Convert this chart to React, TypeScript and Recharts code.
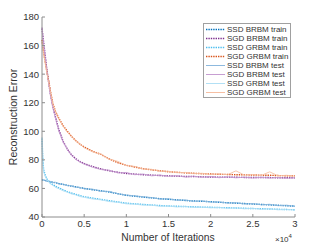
import React from 'react';
import { LineChart, Line, XAxis, YAxis, Customized } from 'recharts';

const iterations = [0, 0.01, 0.02, 0.04, 0.06, 0.08, 0.1, 0.13, 0.16, 0.2, 0.25, 0.3, 0.35, 0.4, 0.45, 0.5, 0.6, 0.7, 0.8, 0.9, 1.0, 1.1, 1.2, 1.3, 1.4, 1.5, 1.6, 1.7, 1.8, 1.9, 2.0, 2.1, 2.2, 2.3, 2.4, 2.5, 2.6, 2.7, 2.8, 2.9, 3.0];

const ssdBrbmTrain = [66.0, 65.8, 65.9, 65.5, 65.2, 65.0, 64.7, 64.3, 64.0, 63.4, 62.8, 62.2, 61.6, 61.1, 60.5, 60.0, 59.1, 58.3, 57.5, 56.3, 55.2, 54.6, 53.9, 53.4, 52.8, 52.4, 52.0, 51.6, 51.2, 51.0, 50.7, 50.3, 50.0, 49.7, 49.4, 49.1, 48.8, 48.5, 48.2, 47.9, 47.6];
const sgdBrbmTrain = [172, 167, 162, 152, 142, 134, 126, 117, 110, 101, 93, 87.5, 83.5, 80.8, 78.8, 77.4, 75.3, 73.6, 72.3, 71.3, 70.5, 70.0, 69.6, 69.3, 69.0, 68.8, 68.6, 68.4, 68.3, 68.1, 68.0, 67.9, 67.9, 67.8, 67.7, 67.7, 67.6, 67.6, 67.5, 67.5, 67.4];
const ssdGrbmTrain = [95, 80, 73, 69, 66.5, 65, 63.8, 62.6, 61.5, 60.3, 59, 57.8, 56.8, 55.9, 55, 54.2, 53.2, 52.3, 51.4, 50.5, 49.7, 49.2, 48.8, 48.4, 48.0, 47.7, 47.5, 47.3, 47.1, 46.9, 46.8, 46.6, 46.5, 46.3, 46.1, 45.9, 45.8, 45.6, 45.4, 45.2, 45.1];
const sgdGrbmTrain = [164, 159, 155, 148, 141, 135, 128, 119, 114, 109, 104, 100, 96.5, 93.5, 91, 89, 86, 83.8, 80.6, 78, 76.2, 75, 73.8, 73, 72.3, 71.7, 71.3, 70.9, 70.6, 70.3, 70.1, 69.9, 69.8, 69.6, 69.5, 69.4, 69.3, 69.2, 69.0, 68.9, 68.8];

const ssdBrbmTest = [66.2, 65.6, 66.1, 65.2, 65.4, 64.7, 64.9, 64.0, 64.3, 63.1, 63.0, 61.9, 61.9, 60.8, 60.8, 59.7, 59.5, 58.0, 57.9, 56.3, 55.4, 54.8, 54.2, 53.6, 52.5, 52.8, 51.7, 51.9, 51.0, 51.3, 50.4, 50.6, 49.7, 50.0, 49.1, 49.4, 48.5, 48.9, 47.9, 48.3, 47.4];
const sgdBrbmTest = [173, 166, 161, 151, 141, 133, 125, 116, 109, 100, 92.5, 87, 83.2, 80.2, 78.6, 77.0, 74.8, 73.2, 72.8, 70.8, 71.2, 69.6, 70.1, 68.8, 69.4, 68.4, 69.0, 67.9, 68.6, 67.8, 68.3, 67.5, 68.1, 67.4, 67.9, 67.3, 67.8, 67.2, 67.7, 67.1, 67.5];
const ssdGrbmTest = [96, 78, 71.5, 68, 66, 64.3, 63.2, 62.1, 60.8, 59.8, 58.3, 57.4, 56.1, 55.5, 54.3, 53.8, 52.6, 52.0, 50.8, 50.3, 49.2, 49.0, 48.3, 48.3, 47.5, 47.7, 47.0, 47.4, 46.7, 46.9, 46.4, 46.7, 46.1, 46.4, 45.7, 46.1, 45.4, 45.8, 45.0, 45.4, 44.8];
const sgdGrbmTest = [163, 158, 154, 147, 140, 134, 127.5, 118.5, 113.5, 108.5, 103.6, 99.4, 96.8, 93.0, 91.3, 88.5, 85.6, 83.9, 80.6, 78.9, 76.0, 75.4, 73.5, 73.4, 72.0, 72.0, 71.0, 71.2, 70.3, 70.6, 69.8, 70.2, 69.6, 72.3, 69.3, 69.7, 69.1, 71.6, 68.8, 69.2, 68.6];

const xTicks = [0, 0.5, 1, 1.5, 2, 2.5, 3];
const yTicks = [40, 60, 80, 100, 120, 140, 160, 180];

const seriesNames = ['SSD BRBM train', 'SGD BRBM train', 'SSD GRBM train', 'SGD GRBM train', 'SSD BRBM test', 'SGD BRBM test', 'SSD GRBM test', 'SGD GRBM test'];
const seriesValues = [ssdBrbmTrain, sgdBrbmTrain, ssdGrbmTrain, sgdGrbmTrain, ssdBrbmTest, sgdBrbmTest, ssdGrbmTest, sgdGrbmTest];
const seriesColors = ['#0072BD', '#7E2F8E', '#4DBEEE', '#D95319', '#8DB9DE', '#C79ED2', '#B2E0F5', '#F6BFA3'];
const seriesDotted = [true, true, true, true, false, false, false, false];

const data = iterations.map((x, i) => {
  const row: Record<string, number> = { x };
  seriesNames.forEach((n, k) => { row[n] = seriesValues[k][i]; });
  return row;
});

const FONT = '"Liberation Sans", Arial, Helvetica, sans-serif';
const AXIS = '#8c8c8c';
const TXT = '#333333';

const LegendBox = () => (
  <div style={{ position: 'absolute', left: 203, top: 23, border: '1px solid #a0a0a0', background: '#fff', width: 88, height: 75, boxSizing: 'border-box', paddingTop: 1, fontFamily: FONT }}>
    {seriesNames.map((n, k) => (
      <div key={n} style={{ display: 'flex', alignItems: 'center', height: 9, lineHeight: '9px' }}>
        <svg width={21} height={9} style={{ marginLeft: 1, flex: 'none' }}>
          <line x1={1} x2={20} y1={4.5} y2={4.5} stroke={seriesColors[k]} strokeWidth={seriesDotted[k] ? 1.4 : 1} strokeDasharray={seriesDotted[k] ? '1.4 1' : undefined} />
        </svg>
        <span style={{ fontSize: 8, color: TXT, marginLeft: 1, whiteSpace: 'nowrap' }}>{n}</span>
      </div>
    ))}
  </div>
);

const Extras = () => (
  <g fontFamily={FONT} fill={TXT}>
    <text x={168} y={241} textAnchor="middle" fontSize={10.3}>Number of Iterations</text>
    <text x={0} y={0} transform="translate(16.5,117) rotate(-90)" textAnchor="middle" fontSize={10.5}>Reconstruction Error</text>
    <text x={275} y={242} fontSize={8}>×10<tspan dy={-4} fontSize={6}>4</tspan></text>
  </g>
);

export default function App() {
  return (
    <div style={{ position: 'absolute', left: 0, top: 0, width: 327, height: 245, background: '#fff' }}>
      <LineChart width={327} height={245} data={data} margin={{ top: 17, right: 32, bottom: 0, left: 0 }}>
        <XAxis xAxisId="b" dataKey="x" type="number" domain={[0, 3]} ticks={xTicks} height={28} tickSize={-3} tickMargin={6}
          stroke={AXIS} tick={{ fill: TXT, fontSize: 9.5, fontFamily: FONT }} interval={0} />
        <XAxis xAxisId="t" dataKey="x" type="number" domain={[0, 3]} ticks={xTicks} orientation="top" height={0} tickSize={-3}
          stroke={AXIS} tick={false} />
        <YAxis yAxisId="l" type="number" domain={[40, 180]} ticks={yTicks} width={42} tickSize={-3} tickMargin={6}
          stroke={AXIS} tick={{ fill: TXT, fontSize: 9.5, fontFamily: FONT }} interval={0} />
        <YAxis yAxisId="r" type="number" domain={[40, 180]} ticks={yTicks} orientation="right" width={0} tickSize={-3}
          stroke={AXIS} tick={false} />
        {seriesNames.map((n, k) => (
          <Line key={n} xAxisId="b" yAxisId="l" type="linear" dataKey={n} stroke={seriesColors[k]}
            strokeWidth={seriesDotted[k] ? 1.4 : 0.9} strokeDasharray={seriesDotted[k] ? '1.4 1' : undefined}
            dot={false} activeDot={false} isAnimationActive={false} />
        ))}
        <Customized component={<Extras />} />
      </LineChart>
      <LegendBox />
    </div>
  );
}
